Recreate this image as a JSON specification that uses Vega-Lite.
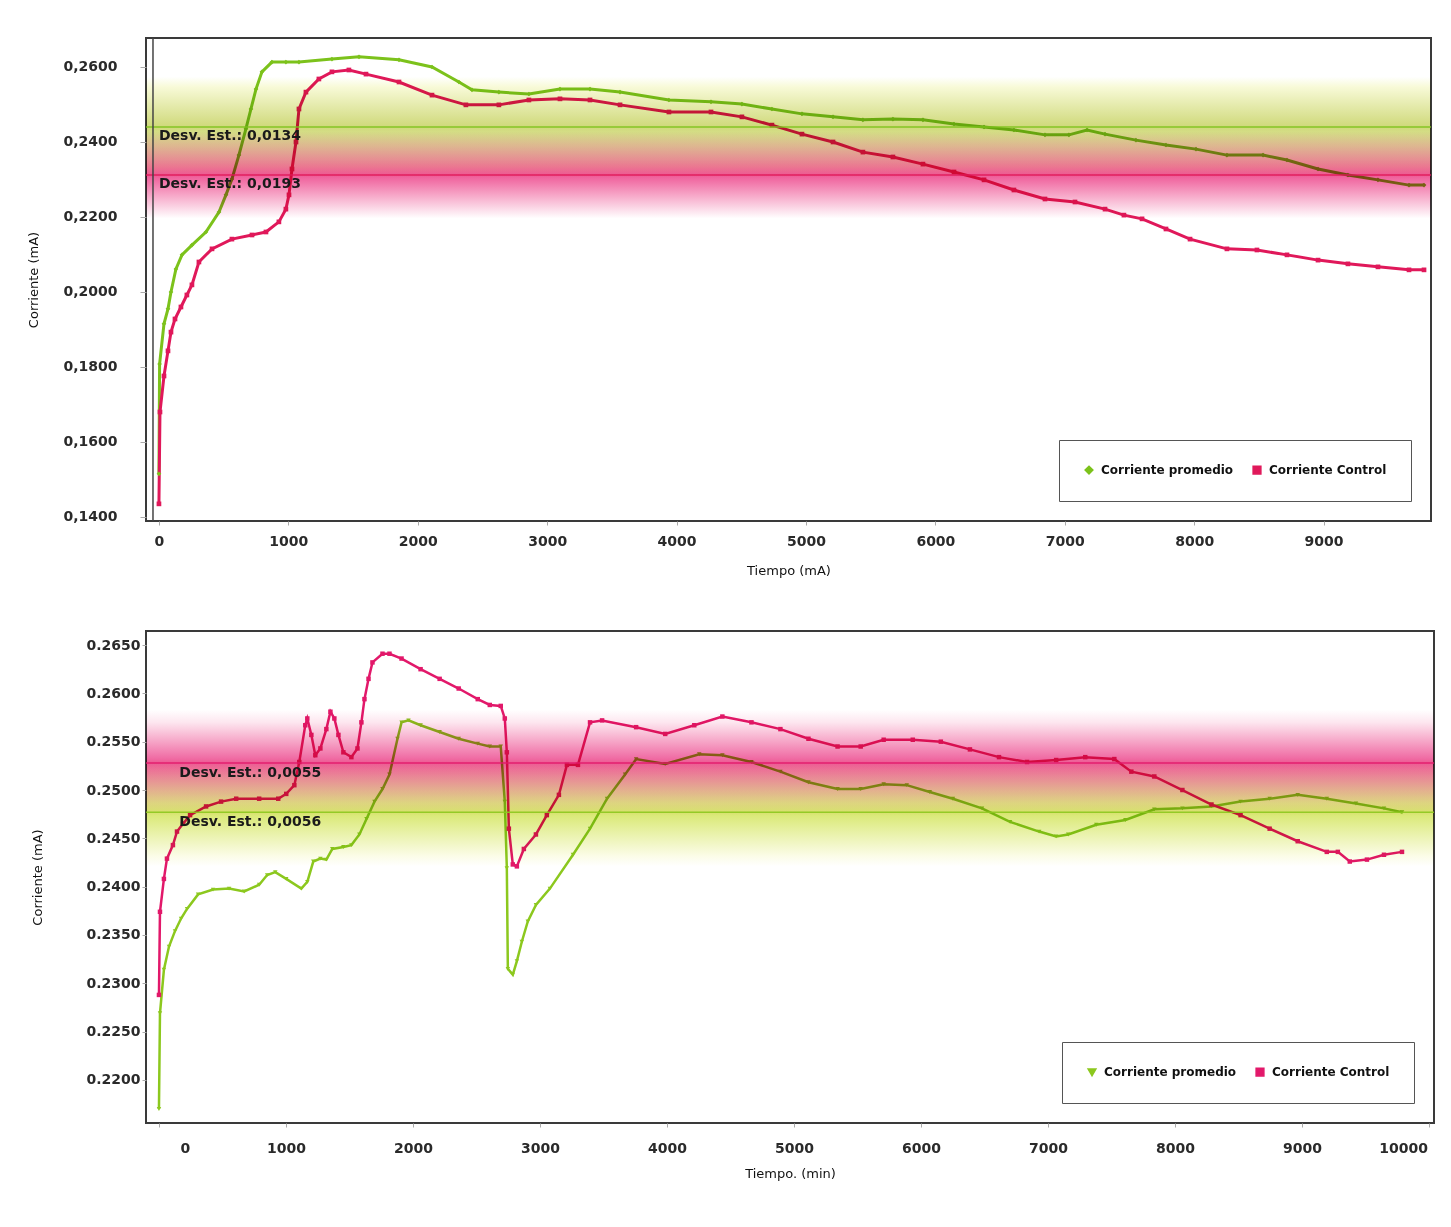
{
  "$schema": "https://vega.github.io/schema/vega-lite/v6.json",
  "background": "white",
  "padding": {"left": 26, "top": 36, "right": 5, "bottom": 5},
  "spacing": 52,
  "datasets": {
    "top_series": [
      {"series": "Corriente promedio", "t": 0, "v": 0.1515},
      {"series": "Corriente promedio", "t": 5, "v": 0.1808},
      {"series": "Corriente promedio", "t": 39, "v": 0.1915},
      {"series": "Corriente promedio", "t": 70, "v": 0.1955},
      {"series": "Corriente promedio", "t": 93, "v": 0.2000},
      {"series": "Corriente promedio", "t": 131, "v": 0.2061},
      {"series": "Corriente promedio", "t": 178, "v": 0.2099},
      {"series": "Corriente promedio", "t": 255, "v": 0.2125},
      {"series": "Corriente promedio", "t": 363, "v": 0.2160},
      {"series": "Corriente promedio", "t": 464, "v": 0.2213},
      {"series": "Corriente promedio", "t": 518, "v": 0.2259},
      {"series": "Corriente promedio", "t": 564, "v": 0.2301},
      {"series": "Corriente promedio", "t": 618, "v": 0.2365},
      {"series": "Corriente promedio", "t": 672, "v": 0.2435},
      {"series": "Corriente promedio", "t": 711, "v": 0.2488},
      {"series": "Corriente promedio", "t": 750, "v": 0.2541},
      {"series": "Corriente promedio", "t": 796, "v": 0.2587},
      {"series": "Corriente promedio", "t": 873, "v": 0.2613},
      {"series": "Corriente promedio", "t": 981, "v": 0.2613},
      {"series": "Corriente promedio", "t": 1082, "v": 0.2613},
      {"series": "Corriente promedio", "t": 1337, "v": 0.2621},
      {"series": "Corriente promedio", "t": 1546, "v": 0.2627},
      {"series": "Corriente promedio", "t": 1855, "v": 0.2619},
      {"series": "Corriente promedio", "t": 2110, "v": 0.2600},
      {"series": "Corriente promedio", "t": 2318, "v": 0.2560},
      {"series": "Corriente promedio", "t": 2419, "v": 0.2539},
      {"series": "Corriente promedio", "t": 2627, "v": 0.2533},
      {"series": "Corriente promedio", "t": 2859, "v": 0.2528},
      {"series": "Corriente promedio", "t": 3099, "v": 0.2541},
      {"series": "Corriente promedio", "t": 3331, "v": 0.2541},
      {"series": "Corriente promedio", "t": 3563, "v": 0.2533},
      {"series": "Corriente promedio", "t": 3941, "v": 0.2512},
      {"series": "Corriente promedio", "t": 4266, "v": 0.2507},
      {"series": "Corriente promedio", "t": 4505, "v": 0.2501},
      {"series": "Corriente promedio", "t": 4737, "v": 0.2488},
      {"series": "Corriente promedio", "t": 4969, "v": 0.2475},
      {"series": "Corriente promedio", "t": 5209, "v": 0.2467},
      {"series": "Corriente promedio", "t": 5440, "v": 0.2459},
      {"series": "Corriente promedio", "t": 5672, "v": 0.2461},
      {"series": "Corriente promedio", "t": 5904, "v": 0.2459},
      {"series": "Corriente promedio", "t": 6144, "v": 0.2448},
      {"series": "Corriente promedio", "t": 6376, "v": 0.2440},
      {"series": "Corriente promedio", "t": 6607, "v": 0.2432},
      {"series": "Corriente promedio", "t": 6847, "v": 0.2419},
      {"series": "Corriente promedio", "t": 7032, "v": 0.2419},
      {"series": "Corriente promedio", "t": 7172, "v": 0.2432},
      {"series": "Corriente promedio", "t": 7311, "v": 0.2421},
      {"series": "Corriente promedio", "t": 7550, "v": 0.2405},
      {"series": "Corriente promedio", "t": 7782, "v": 0.2392},
      {"series": "Corriente promedio", "t": 8014, "v": 0.2381},
      {"series": "Corriente promedio", "t": 8253, "v": 0.2365},
      {"series": "Corriente promedio", "t": 8532, "v": 0.2365},
      {"series": "Corriente promedio", "t": 8717, "v": 0.2352},
      {"series": "Corriente promedio", "t": 8957, "v": 0.2328},
      {"series": "Corriente promedio", "t": 9188, "v": 0.2312},
      {"series": "Corriente promedio", "t": 9420, "v": 0.2299},
      {"series": "Corriente promedio", "t": 9660, "v": 0.2285},
      {"series": "Corriente promedio", "t": 9776, "v": 0.2285},
      {"series": "Corriente Control", "t": 0, "v": 0.1435},
      {"series": "Corriente Control", "t": 8, "v": 0.1680},
      {"series": "Corriente Control", "t": 39, "v": 0.1776},
      {"series": "Corriente Control", "t": 70, "v": 0.1843},
      {"series": "Corriente Control", "t": 93, "v": 0.1893},
      {"series": "Corriente Control", "t": 124, "v": 0.1928},
      {"series": "Corriente Control", "t": 170, "v": 0.1960},
      {"series": "Corriente Control", "t": 216, "v": 0.1992},
      {"series": "Corriente Control", "t": 255, "v": 0.2019},
      {"series": "Corriente Control", "t": 309, "v": 0.2080},
      {"series": "Corriente Control", "t": 410, "v": 0.2115},
      {"series": "Corriente Control", "t": 564, "v": 0.2141},
      {"series": "Corriente Control", "t": 719, "v": 0.2152},
      {"series": "Corriente Control", "t": 827, "v": 0.2160},
      {"series": "Corriente Control", "t": 927, "v": 0.2187},
      {"series": "Corriente Control", "t": 981, "v": 0.2221},
      {"series": "Corriente Control", "t": 1005, "v": 0.2259},
      {"series": "Corriente Control", "t": 1028, "v": 0.2328},
      {"series": "Corriente Control", "t": 1059, "v": 0.2400},
      {"series": "Corriente Control", "t": 1082, "v": 0.2488},
      {"series": "Corriente Control", "t": 1136, "v": 0.2533},
      {"series": "Corriente Control", "t": 1236, "v": 0.2568},
      {"series": "Corriente Control", "t": 1337, "v": 0.2587},
      {"series": "Corriente Control", "t": 1468, "v": 0.2592},
      {"series": "Corriente Control", "t": 1600, "v": 0.2581},
      {"series": "Corriente Control", "t": 1855, "v": 0.2560},
      {"series": "Corriente Control", "t": 2110, "v": 0.2525},
      {"series": "Corriente Control", "t": 2372, "v": 0.2499},
      {"series": "Corriente Control", "t": 2627, "v": 0.2499},
      {"series": "Corriente Control", "t": 2859, "v": 0.2512},
      {"series": "Corriente Control", "t": 3099, "v": 0.2515},
      {"series": "Corriente Control", "t": 3331, "v": 0.2512},
      {"series": "Corriente Control", "t": 3563, "v": 0.2499},
      {"series": "Corriente Control", "t": 3941, "v": 0.2480},
      {"series": "Corriente Control", "t": 4266, "v": 0.2480},
      {"series": "Corriente Control", "t": 4505, "v": 0.2467},
      {"series": "Corriente Control", "t": 4737, "v": 0.2445},
      {"series": "Corriente Control", "t": 4969, "v": 0.2421},
      {"series": "Corriente Control", "t": 5209, "v": 0.2400},
      {"series": "Corriente Control", "t": 5440, "v": 0.2373},
      {"series": "Corriente Control", "t": 5672, "v": 0.2360},
      {"series": "Corriente Control", "t": 5904, "v": 0.2341},
      {"series": "Corriente Control", "t": 6144, "v": 0.2320},
      {"series": "Corriente Control", "t": 6376, "v": 0.2299},
      {"series": "Corriente Control", "t": 6607, "v": 0.2272},
      {"series": "Corriente Control", "t": 6847, "v": 0.2248},
      {"series": "Corriente Control", "t": 7079, "v": 0.2240},
      {"series": "Corriente Control", "t": 7311, "v": 0.2221},
      {"series": "Corriente Control", "t": 7457, "v": 0.2205},
      {"series": "Corriente Control", "t": 7597, "v": 0.2195},
      {"series": "Corriente Control", "t": 7782, "v": 0.2168},
      {"series": "Corriente Control", "t": 7968, "v": 0.2141},
      {"series": "Corriente Control", "t": 8253, "v": 0.2115},
      {"series": "Corriente Control", "t": 8485, "v": 0.2112},
      {"series": "Corriente Control", "t": 8717, "v": 0.2099},
      {"series": "Corriente Control", "t": 8957, "v": 0.2085},
      {"series": "Corriente Control", "t": 9188, "v": 0.2075},
      {"series": "Corriente Control", "t": 9420, "v": 0.2067},
      {"series": "Corriente Control", "t": 9660, "v": 0.2059},
      {"series": "Corriente Control", "t": 9776, "v": 0.2059}
    ],
    "top_stats": [
      {"series": "Corriente promedio", "mean": 0.2440, "sd": 0.0134, "hi": 0.2574, "lo": 0.2306, "label": "Desv. Est.: 0,0134", "lx": 0},
      {"series": "Corriente Control", "mean": 0.2312, "sd": 0.0193, "hi": 0.2505, "lo": 0.2119, "label": "Desv. Est.: 0,0193", "lx": 0}
    ],
    "top_marker": [{"t": -46}],
    "bottom_series": [
      {"series": "Corriente promedio", "t": 0, "v": 0.2170},
      {"series": "Corriente promedio", "t": 8, "v": 0.2269},
      {"series": "Corriente promedio", "t": 39, "v": 0.2314},
      {"series": "Corriente promedio", "t": 79, "v": 0.2338},
      {"series": "Corriente promedio", "t": 126, "v": 0.2354},
      {"series": "Corriente promedio", "t": 174, "v": 0.2367},
      {"series": "Corriente promedio", "t": 221, "v": 0.2377},
      {"series": "Corriente promedio", "t": 308, "v": 0.2392},
      {"series": "Corriente promedio", "t": 426, "v": 0.2397},
      {"series": "Corriente promedio", "t": 552, "v": 0.2398},
      {"series": "Corriente promedio", "t": 671, "v": 0.2395},
      {"series": "Corriente promedio", "t": 789, "v": 0.2402},
      {"series": "Corriente promedio", "t": 852, "v": 0.2412},
      {"series": "Corriente promedio", "t": 916, "v": 0.2415},
      {"series": "Corriente promedio", "t": 1002, "v": 0.2408},
      {"series": "Corriente promedio", "t": 1121, "v": 0.2398},
      {"series": "Corriente promedio", "t": 1168, "v": 0.2405},
      {"series": "Corriente promedio", "t": 1215, "v": 0.2426},
      {"series": "Corriente promedio", "t": 1271, "v": 0.2429},
      {"series": "Corriente promedio", "t": 1318, "v": 0.2428},
      {"series": "Corriente promedio", "t": 1365, "v": 0.2439},
      {"series": "Corriente promedio", "t": 1452, "v": 0.2441},
      {"series": "Corriente promedio", "t": 1515, "v": 0.2443},
      {"series": "Corriente promedio", "t": 1578, "v": 0.2454},
      {"series": "Corriente promedio", "t": 1634, "v": 0.2470},
      {"series": "Corriente promedio", "t": 1697, "v": 0.2488},
      {"series": "Corriente promedio", "t": 1760, "v": 0.2501},
      {"series": "Corriente promedio", "t": 1815, "v": 0.2516},
      {"series": "Corriente promedio", "t": 1878, "v": 0.2553},
      {"series": "Corriente promedio", "t": 1910, "v": 0.2570},
      {"series": "Corriente promedio", "t": 1965, "v": 0.2572},
      {"series": "Corriente promedio", "t": 2060, "v": 0.2567},
      {"series": "Corriente promedio", "t": 2210, "v": 0.2560},
      {"series": "Corriente promedio", "t": 2360, "v": 0.2553},
      {"series": "Corriente promedio", "t": 2510, "v": 0.2548},
      {"series": "Corriente promedio", "t": 2605, "v": 0.2545},
      {"series": "Corriente promedio", "t": 2691, "v": 0.2545},
      {"series": "Corriente promedio", "t": 2723, "v": 0.2488},
      {"series": "Corriente promedio", "t": 2739, "v": 0.2419},
      {"series": "Corriente promedio", "t": 2747, "v": 0.2315},
      {"series": "Corriente promedio", "t": 2786, "v": 0.2309},
      {"series": "Corriente promedio", "t": 2818, "v": 0.2323},
      {"series": "Corriente promedio", "t": 2857, "v": 0.2343},
      {"series": "Corriente promedio", "t": 2904, "v": 0.2364},
      {"series": "Corriente promedio", "t": 2968, "v": 0.2381},
      {"series": "Corriente promedio", "t": 3078, "v": 0.2398},
      {"series": "Corriente promedio", "t": 3260, "v": 0.2433},
      {"series": "Corriente promedio", "t": 3394, "v": 0.2460},
      {"series": "Corriente promedio", "t": 3528, "v": 0.2491},
      {"series": "Corriente promedio", "t": 3670, "v": 0.2516},
      {"series": "Corriente promedio", "t": 3757, "v": 0.2532},
      {"series": "Corriente promedio", "t": 3986, "v": 0.2527},
      {"series": "Corriente promedio", "t": 4254, "v": 0.2537},
      {"series": "Corriente promedio", "t": 4436, "v": 0.2536},
      {"series": "Corriente promedio", "t": 4665, "v": 0.2529},
      {"series": "Corriente promedio", "t": 4893, "v": 0.2519},
      {"series": "Corriente promedio", "t": 5114, "v": 0.2508},
      {"series": "Corriente promedio", "t": 5343, "v": 0.2501},
      {"series": "Corriente promedio", "t": 5525, "v": 0.2501},
      {"series": "Corriente promedio", "t": 5706, "v": 0.2506},
      {"series": "Corriente promedio", "t": 5888, "v": 0.2505},
      {"series": "Corriente promedio", "t": 6069, "v": 0.2498},
      {"series": "Corriente promedio", "t": 6251, "v": 0.2491},
      {"series": "Corriente promedio", "t": 6480, "v": 0.2481},
      {"series": "Corriente promedio", "t": 6701, "v": 0.2467},
      {"series": "Corriente promedio", "t": 6930, "v": 0.2457},
      {"series": "Corriente promedio", "t": 7064, "v": 0.2452},
      {"series": "Corriente promedio", "t": 7159, "v": 0.2454},
      {"series": "Corriente promedio", "t": 7380, "v": 0.2464},
      {"series": "Corriente promedio", "t": 7609, "v": 0.2469},
      {"series": "Corriente promedio", "t": 7837, "v": 0.2480},
      {"series": "Corriente promedio", "t": 8058, "v": 0.2481},
      {"series": "Corriente promedio", "t": 8287, "v": 0.2483},
      {"series": "Corriente promedio", "t": 8516, "v": 0.2488},
      {"series": "Corriente promedio", "t": 8745, "v": 0.2491},
      {"series": "Corriente promedio", "t": 8966, "v": 0.2495},
      {"series": "Corriente promedio", "t": 9195, "v": 0.2491},
      {"series": "Corriente promedio", "t": 9424, "v": 0.2486},
      {"series": "Corriente promedio", "t": 9645, "v": 0.2481},
      {"series": "Corriente promedio", "t": 9787, "v": 0.2477},
      {"series": "Corriente Control", "t": 0, "v": 0.2288},
      {"series": "Corriente Control", "t": 8, "v": 0.2374},
      {"series": "Corriente Control", "t": 39, "v": 0.2408},
      {"series": "Corriente Control", "t": 63, "v": 0.2429},
      {"series": "Corriente Control", "t": 110, "v": 0.2443},
      {"series": "Corriente Control", "t": 142, "v": 0.2457},
      {"series": "Corriente Control", "t": 189, "v": 0.2465},
      {"series": "Corriente Control", "t": 245, "v": 0.2474},
      {"series": "Corriente Control", "t": 371, "v": 0.2483},
      {"series": "Corriente Control", "t": 489, "v": 0.2488},
      {"series": "Corriente Control", "t": 608, "v": 0.2491},
      {"series": "Corriente Control", "t": 789, "v": 0.2491},
      {"series": "Corriente Control", "t": 939, "v": 0.2491},
      {"series": "Corriente Control", "t": 1002, "v": 0.2496},
      {"series": "Corriente Control", "t": 1066, "v": 0.2505},
      {"series": "Corriente Control", "t": 1105, "v": 0.2529},
      {"series": "Corriente Control", "t": 1152, "v": 0.2567},
      {"series": "Corriente Control", "t": 1168, "v": 0.2574},
      {"series": "Corriente Control", "t": 1200, "v": 0.2557},
      {"series": "Corriente Control", "t": 1231, "v": 0.2536},
      {"series": "Corriente Control", "t": 1271, "v": 0.2543},
      {"series": "Corriente Control", "t": 1318, "v": 0.2563},
      {"series": "Corriente Control", "t": 1350, "v": 0.2581},
      {"series": "Corriente Control", "t": 1381, "v": 0.2574},
      {"series": "Corriente Control", "t": 1413, "v": 0.2557},
      {"series": "Corriente Control", "t": 1452, "v": 0.2539},
      {"series": "Corriente Control", "t": 1515, "v": 0.2534},
      {"series": "Corriente Control", "t": 1563, "v": 0.2543},
      {"series": "Corriente Control", "t": 1594, "v": 0.2570},
      {"series": "Corriente Control", "t": 1618, "v": 0.2594},
      {"series": "Corriente Control", "t": 1650, "v": 0.2615},
      {"series": "Corriente Control", "t": 1681, "v": 0.2632},
      {"series": "Corriente Control", "t": 1760, "v": 0.2641},
      {"series": "Corriente Control", "t": 1815, "v": 0.2641},
      {"series": "Corriente Control", "t": 1910, "v": 0.2636},
      {"series": "Corriente Control", "t": 2060, "v": 0.2625},
      {"series": "Corriente Control", "t": 2210, "v": 0.2615},
      {"series": "Corriente Control", "t": 2360, "v": 0.2605},
      {"series": "Corriente Control", "t": 2510, "v": 0.2594},
      {"series": "Corriente Control", "t": 2605, "v": 0.2588},
      {"series": "Corriente Control", "t": 2691, "v": 0.2587},
      {"series": "Corriente Control", "t": 2723, "v": 0.2574},
      {"series": "Corriente Control", "t": 2739, "v": 0.2539},
      {"series": "Corriente Control", "t": 2755, "v": 0.2460},
      {"series": "Corriente Control", "t": 2786, "v": 0.2423},
      {"series": "Corriente Control", "t": 2818, "v": 0.2421},
      {"series": "Corriente Control", "t": 2873, "v": 0.2439},
      {"series": "Corriente Control", "t": 2968, "v": 0.2454},
      {"series": "Corriente Control", "t": 3054, "v": 0.2474},
      {"series": "Corriente Control", "t": 3149, "v": 0.2495},
      {"series": "Corriente Control", "t": 3212, "v": 0.2526},
      {"series": "Corriente Control", "t": 3299, "v": 0.2526},
      {"series": "Corriente Control", "t": 3394, "v": 0.2570},
      {"series": "Corriente Control", "t": 3489, "v": 0.2572},
      {"series": "Corriente Control", "t": 3757, "v": 0.2565},
      {"series": "Corriente Control", "t": 3986, "v": 0.2558},
      {"series": "Corriente Control", "t": 4215, "v": 0.2567},
      {"series": "Corriente Control", "t": 4436, "v": 0.2576},
      {"series": "Corriente Control", "t": 4665, "v": 0.2570},
      {"series": "Corriente Control", "t": 4893, "v": 0.2563},
      {"series": "Corriente Control", "t": 5114, "v": 0.2553},
      {"series": "Corriente Control", "t": 5343, "v": 0.2545},
      {"series": "Corriente Control", "t": 5525, "v": 0.2545},
      {"series": "Corriente Control", "t": 5706, "v": 0.2552},
      {"series": "Corriente Control", "t": 5935, "v": 0.2552},
      {"series": "Corriente Control", "t": 6156, "v": 0.2550},
      {"series": "Corriente Control", "t": 6385, "v": 0.2542},
      {"series": "Corriente Control", "t": 6614, "v": 0.2534},
      {"series": "Corriente Control", "t": 6835, "v": 0.2529},
      {"series": "Corriente Control", "t": 7064, "v": 0.2531},
      {"series": "Corriente Control", "t": 7293, "v": 0.2534},
      {"series": "Corriente Control", "t": 7522, "v": 0.2532},
      {"series": "Corriente Control", "t": 7656, "v": 0.2519},
      {"series": "Corriente Control", "t": 7837, "v": 0.2514},
      {"series": "Corriente Control", "t": 8058, "v": 0.2500},
      {"series": "Corriente Control", "t": 8287, "v": 0.2485},
      {"series": "Corriente Control", "t": 8516, "v": 0.2474},
      {"series": "Corriente Control", "t": 8745, "v": 0.2460},
      {"series": "Corriente Control", "t": 8966, "v": 0.2447},
      {"series": "Corriente Control", "t": 9195, "v": 0.2436},
      {"series": "Corriente Control", "t": 9282, "v": 0.2436},
      {"series": "Corriente Control", "t": 9376, "v": 0.2426},
      {"series": "Corriente Control", "t": 9511, "v": 0.2428},
      {"series": "Corriente Control", "t": 9645, "v": 0.2433},
      {"series": "Corriente Control", "t": 9787, "v": 0.2436}
    ],
    "bottom_stats": [
      {"series": "Corriente Control", "mean": 0.2528, "sd": 0.0055, "hi": 0.2583, "lo": 0.2473, "label": "Desv. Est.: 0,0055", "lx": 160},
      {"series": "Corriente promedio", "mean": 0.2477, "sd": 0.0056, "hi": 0.2533, "lo": 0.2421, "label": "Desv. Est.: 0,0056", "lx": 160}
    ]
  },
  "vconcat": [
    {
      "width": 1285,
      "height": 483,
      "layer": [
        {
          "data": {"name": "top_series"},
          "mark": {"type": "line", "strokeWidth": 3, "clip": true},
          "encoding": {
            "x": {"field": "t", "type": "quantitative", "title": "Tiempo (mA)",
                  "scale": {"domain": [-100, 9830], "nice": false, "zero": false},
                  "axis": {"values": [0, 1000, 2000, 3000, 4000, 5000, 6000, 7000, 8000, 9000], "format": "d", "labelPadding": 9, "titlePadding": 16}},
            "y": {"field": "v", "type": "quantitative", "title": "Corriente (mA)",
                  "scale": {"domain": [0.13893, 0.26773], "nice": false, "zero": false},
                  "axis": {"values": [0.14, 0.16, 0.18, 0.2, 0.22, 0.24, 0.26], "labelExpr": "replace(format(datum.value, '.4f'), '.', ',')", "tickSize": 6, "labelPadding": 23, "titlePadding": 22}},
            "color": {"field": "series", "type": "nominal", "title": null,
                      "scale": {"domain": ["Corriente promedio", "Corriente Control"], "range": ["#7cc21b", "#e0185a"]}}
          }
        },
        {
          "data": {"name": "top_series"},
          "mark": {"type": "point", "filled": true, "size": 22, "opacity": 1, "clip": true},
          "encoding": {
            "x": {"field": "t", "type": "quantitative", "title": "Tiempo (mA)"},
            "y": {"field": "v", "type": "quantitative", "title": "Corriente (mA)"},
            "color": {"field": "series", "type": "nominal", "title": null,
                      "legend": {"orient": "bottom-right", "offset": 20, "direction": "horizontal", "title": null}},
            "shape": {"field": "series", "type": "nominal", "title": null,
                      "scale": {"domain": ["Corriente promedio", "Corriente Control"], "range": ["diamond", "square"]},
                      "legend": {"orient": "bottom-right", "offset": 20, "direction": "horizontal", "title": null}}
          }
        },
        {
          "data": {"name": "top_stats"},
          "transform": [{"filter": "datum.series === 'Corriente promedio'"}],
          "mark": {"type": "rect", "blend": "multiply",
                   "fill": {"gradient": "linear", "x1": 0, "y1": 0, "x2": 0, "y2": 1,
                            "stops": [{"offset": 0, "color": "#ffffff"}, {"offset": 0.1, "color": "#f8fad8"}, {"offset": 0.5, "color": "#cfd97a"}, {"offset": 0.9, "color": "#f8fad8"}, {"offset": 1, "color": "#ffffff"}]}},
          "encoding": {
            "y": {"field": "hi", "type": "quantitative", "title": "Corriente (mA)"},
            "y2": {"field": "lo"}
          }
        },
        {
          "data": {"name": "top_stats"},
          "transform": [{"filter": "datum.series === 'Corriente Control'"}],
          "mark": {"type": "rect", "blend": "multiply",
                   "fill": {"gradient": "linear", "x1": 0, "y1": 0, "x2": 0, "y2": 1,
                            "stops": [{"offset": 0, "color": "#ffffff"}, {"offset": 0.2, "color": "#ffffff"}, {"offset": 0.5, "color": "#ef5a98"}, {"offset": 0.8, "color": "#ffffff"}, {"offset": 1, "color": "#ffffff"}]}},
          "encoding": {
            "y": {"field": "hi", "type": "quantitative", "title": "Corriente (mA)"},
            "y2": {"field": "lo"}
          }
        },
        {
          "data": {"name": "top_stats"},
          "mark": {"type": "rule", "strokeWidth": 1.5, "opacity": 0.9},
          "encoding": {
            "y": {"field": "mean", "type": "quantitative", "title": "Corriente (mA)"},
            "color": {"field": "series", "type": "nominal", "title": null}
          }
        },
        {
          "data": {"name": "top_marker"},
          "mark": {"type": "rule", "color": "#444", "strokeWidth": 1.5},
          "encoding": {
            "x": {"field": "t", "type": "quantitative", "title": "Tiempo (mA)"}
          }
        },
        {
          "data": {"name": "top_stats"},
          "mark": {"type": "text", "align": "left", "baseline": "top", "dy": 2, "fontSize": 14, "fontWeight": "bold", "color": "#1a1a1a", "font": "DejaVu Sans"},
          "encoding": {
            "x": {"field": "lx", "type": "quantitative", "title": "Tiempo (mA)"},
            "y": {"field": "mean", "type": "quantitative", "title": "Corriente (mA)"},
            "text": {"field": "label"}
          }
        }
      ]
    },
    {
      "width": 1288,
      "height": 492,
      "layer": [
        {
          "data": {"name": "bottom_series"},
          "mark": {"type": "line", "strokeWidth": 2.5, "clip": true},
          "encoding": {
            "x": {"field": "t", "type": "quantitative", "title": "Tiempo. (min)",
                  "scale": {"domain": [-102, 10039], "nice": false, "zero": false},
                  "axis": {"values": [0, 1000, 2000, 3000, 4000, 5000, 6000, 7000, 8000, 9000, 10000], "format": "d", "labelPadding": 14, "titlePadding": 12,
                           "labelOffset": {"condition": [{"test": "datum.value === 0", "value": 26}, {"test": "datum.value === 10000", "value": -26}], "value": 0}}},
            "y": {"field": "v", "type": "quantitative", "title": "Corriente (mA)",
                  "scale": {"domain": [0.21555, 0.26645], "nice": false, "zero": false},
                  "axis": {"values": [0.22, 0.225, 0.23, 0.235, 0.24, 0.245, 0.25, 0.255, 0.26, 0.265], "format": ".4f", "tickSize": 4, "labelPadding": 2, "titlePadding": 41}},
            "color": {"field": "series", "type": "nominal", "title": null,
                      "scale": {"domain": ["Corriente promedio", "Corriente Control"], "range": ["#8cc81e", "#e2186a"]}}
          }
        },
        {
          "data": {"name": "bottom_series"},
          "mark": {"type": "point", "filled": true, "size": 20, "opacity": 1, "clip": true},
          "encoding": {
            "x": {"field": "t", "type": "quantitative", "title": "Tiempo. (min)"},
            "y": {"field": "v", "type": "quantitative", "title": "Corriente (mA)"},
            "color": {"field": "series", "type": "nominal", "title": null,
                      "legend": {"orient": "bottom-right", "offset": 20, "direction": "horizontal", "title": null}},
            "shape": {"field": "series", "type": "nominal", "title": null,
                      "scale": {"domain": ["Corriente promedio", "Corriente Control"], "range": ["triangle-down", "square"]},
                      "legend": {"orient": "bottom-right", "offset": 20, "direction": "horizontal", "title": null}}
          }
        },
        {
          "data": {"name": "bottom_stats"},
          "transform": [{"filter": "datum.series === 'Corriente promedio'"}],
          "mark": {"type": "rect", "blend": "multiply",
                   "fill": {"gradient": "linear", "x1": 0, "y1": 0, "x2": 0, "y2": 1,
                            "stops": [{"offset": 0, "color": "#ffffff"}, {"offset": 0.1, "color": "#fbfce6"}, {"offset": 0.5, "color": "#d8e870"}, {"offset": 0.9, "color": "#fbfce6"}, {"offset": 1, "color": "#ffffff"}]}},
          "encoding": {
            "y": {"field": "hi", "type": "quantitative", "title": "Corriente (mA)"},
            "y2": {"field": "lo"}
          }
        },
        {
          "data": {"name": "bottom_stats"},
          "transform": [{"filter": "datum.series === 'Corriente Control'"}],
          "mark": {"type": "rect", "blend": "multiply",
                   "fill": {"gradient": "linear", "x1": 0, "y1": 0, "x2": 0, "y2": 1,
                            "stops": [{"offset": 0, "color": "#ffffff"}, {"offset": 0.12, "color": "#fde6ef"}, {"offset": 0.5, "color": "#ee5c9a"}, {"offset": 0.88, "color": "#fde6ef"}, {"offset": 1, "color": "#ffffff"}]}},
          "encoding": {
            "y": {"field": "hi", "type": "quantitative", "title": "Corriente (mA)"},
            "y2": {"field": "lo"}
          }
        },
        {
          "data": {"name": "bottom_stats"},
          "mark": {"type": "rule", "strokeWidth": 1.5, "opacity": 0.9},
          "encoding": {
            "y": {"field": "mean", "type": "quantitative", "title": "Corriente (mA)"},
            "color": {"field": "series", "type": "nominal", "title": null}
          }
        },
        {
          "data": {"name": "bottom_stats"},
          "mark": {"type": "text", "align": "left", "baseline": "top", "dy": 3, "fontSize": 14, "fontWeight": "bold", "color": "#1a1a1a", "font": "DejaVu Sans"},
          "encoding": {
            "x": {"field": "lx", "type": "quantitative", "title": "Tiempo. (min)"},
            "y": {"field": "mean", "type": "quantitative", "title": "Corriente (mA)"},
            "text": {"field": "label"}
          }
        }
      ]
    }
  ],
  "resolve": {
    "scale": {"x": "independent", "y": "independent", "color": "independent", "shape": "independent"},
    "legend": {"color": "independent", "shape": "independent"}
  },
  "config": {
    "view": {"stroke": "#3a3a3a", "strokeWidth": 2},
    "font": "DejaVu Sans",
    "axis": {
      "grid": false,
      "domain": false,
      "tickColor": "#aaaaaa",
      "tickSize": 4,
      "labelFont": "DejaVu Sans",
      "labelFontSize": 14,
      "labelFontWeight": "bold",
      "labelColor": "#2a2a2a",
      "titleFont": "DejaVu Sans",
      "titleFontSize": 13,
      "titleFontWeight": "normal",
      "titleColor": "#111111"
    },
    "legend": {
      "labelFont": "DejaVu Sans",
      "labelFontSize": 12,
      "labelFontWeight": "bold",
      "labelColor": "#111111",
      "strokeColor": "#555555",
      "fillColor": "#ffffff",
      "padding": 24,
      "columnPadding": 16,
      "symbolSize": 60,
      "labelOffset": 6
    }
  }
}
